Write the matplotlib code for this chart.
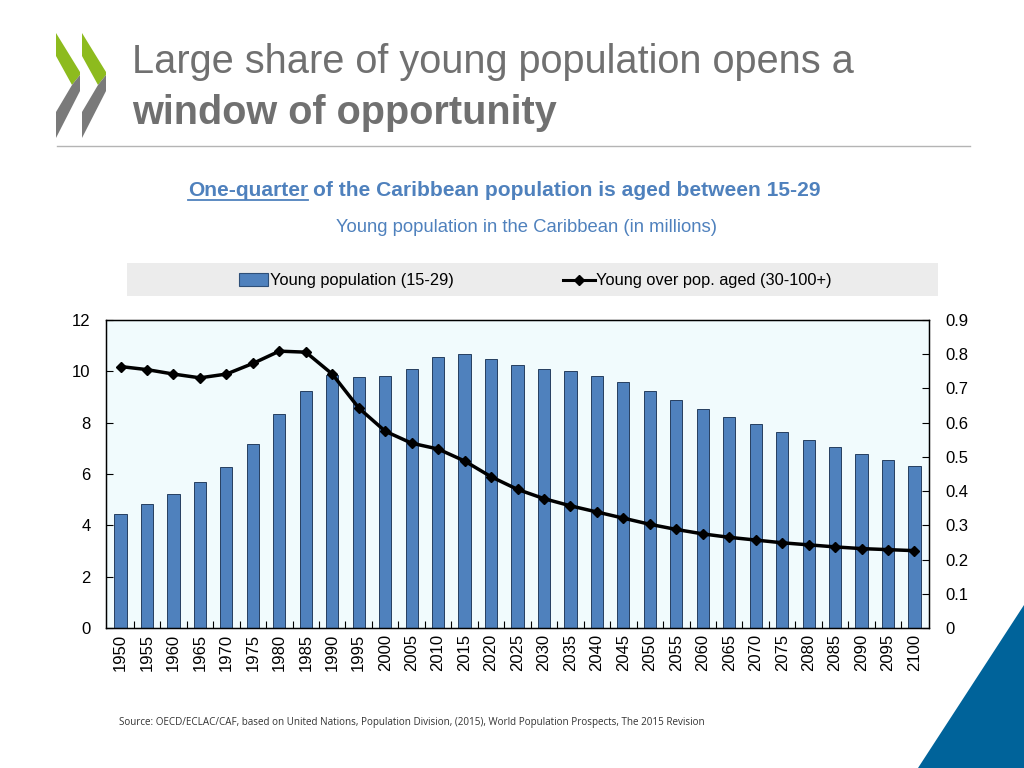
import matplotlib
matplotlib.use("Agg")
import matplotlib.pyplot as plt
from matplotlib import font_manager
from matplotlib.patches import Polygon, Rectangle
from matplotlib.lines import Line2D
import numpy as np

# datos
years = list(range(1950, 2101, 5))
young_pop = [4.44, 4.83, 5.22, 5.67, 6.27, 7.17, 8.34, 9.23, 9.85, 9.78, 9.82,
             10.10, 10.55, 10.69, 10.47, 10.26, 10.09, 10.00, 9.83, 9.57, 9.23,
             8.87, 8.53, 8.23, 7.93, 7.62, 7.32, 7.04, 6.76, 6.53, 6.31]
ratio = [0.764, 0.755, 0.742, 0.731, 0.742, 0.773, 0.809, 0.806, 0.742, 0.643,
         0.575, 0.540, 0.523, 0.488, 0.442, 0.405, 0.378, 0.357, 0.339, 0.321,
         0.303, 0.288, 0.275, 0.265, 0.257, 0.249, 0.243, 0.237, 0.232, 0.229,
         0.226]
left_ticks = [0, 2, 4, 6, 8, 10, 12]
right_ticks = [0, 0.1, 0.2, 0.3, 0.4, 0.5, 0.6, 0.7, 0.8, 0.9]
bar_label = "Young population (15-29)"
line_label = "Young over pop. aged (30-100+)"

names = {f.name for f in font_manager.fontManager.ttflist}
SANS = "Liberation Sans" if "Liberation Sans" in names else "DejaVu Sans"
NARROW = "Liberation Sans Narrow" if "Liberation Sans Narrow" in names else SANS
SMALL = "Open Sans" if "Open Sans" in names else SANS

W, H = 1024, 768


def fx(px):
    return px / W


def fy(py):
    return 1 - py / H


fig = plt.figure(figsize=(10.24, 7.68), dpi=100)
fig.patch.set_facecolor("white")

# logo OCDE (dos chevrones)
green = "#8dbb1e"
grey = "#7a7a7a"
for dx in (0, 26):
    g = [(56, 33), (80, 72), (80, 75), (72, 85), (56, 56)]
    k = [(80, 75), (80, 91), (56, 138), (56, 112), (72, 85)]
    fig.patches.append(Polygon([(fx(x + dx), fy(y)) for x, y in g], closed=True,
                               transform=fig.transFigure, color=green, lw=0))
    fig.patches.append(Polygon([(fx(x + dx), fy(y)) for x, y in k], closed=True,
                               transform=fig.transFigure, color=grey, lw=0))

# triangulo azul
fig.patches.append(Polygon([(fx(1024), fy(605)), (fx(1024), fy(768)), (fx(918), fy(768))],
                           closed=True, transform=fig.transFigure, color="#00639a", lw=0))

# titulo
fig.text(fx(132), fy(73), "Large share of young population opens a", family=SANS,
         fontsize=28.6, color="#707070", va="baseline", ha="left")
fig.text(fx(132), fy(124), "window of opportunity", family=SANS, fontsize=28.5,
         weight="bold", color="#707070", va="baseline", ha="left")
fig.add_artist(Line2D([fx(57), fx(970)], [fy(146), fy(146)], transform=fig.transFigure,
                      color="#b4b4b4", lw=1))

# subtitulo con subrayado
blue = "#4f81bd"
fig.canvas.draw()
r = fig.canvas.get_renderer()
t1 = fig.text(fx(188), fy(196), "One-quarter", family=NARROW, fontsize=15.1, weight="bold",
              color=blue, va="baseline", ha="left")
bb = t1.get_window_extent(renderer=r)
t2 = fig.text(bb.x1 / W + fx(5), fy(196), "of the Caribbean population is aged between 15-29",
              family=NARROW, fontsize=15.1, weight="bold", color=blue, va="baseline", ha="left")
fig.add_artist(Line2D([bb.x0 / W, bb.x1 / W], [fy(200), fy(200)], transform=fig.transFigure,
                      color=blue, lw=1.3))
fig.text(fx(526), fy(232), "Young population in the Caribbean (in millions)", family=NARROW,
         fontsize=13.3, color=blue, va="baseline", ha="center")

# caja de leyenda
fig.patches.append(Rectangle((fx(127), fy(296)), fx(938 - 127), (296 - 263) / H,
                             transform=fig.transFigure, color="#ececec", lw=0))
fig.patches.append(Rectangle((fx(239), fy(286)), fx(29), 13 / H, transform=fig.transFigure,
                             facecolor=blue, edgecolor="#2e4f78", lw=0.8))
fig.text(fx(270), fy(285), bar_label, family=NARROW, fontsize=11.8, color="black",
         va="baseline", ha="left")
fig.add_artist(Line2D([fx(563), fx(595)], [fy(280), fy(280)], transform=fig.transFigure,
                      color="black", lw=2.2))
fig.add_artist(Line2D([fx(579)], [fy(280)], transform=fig.transFigure, color="black",
                      marker="D", markersize=5, lw=0))
fig.text(fx(596), fy(285), line_label, family=NARROW, fontsize=11.8, color="black",
         va="baseline", ha="left")

# grafico
ax = fig.add_axes([fx(106), fy(628), fx(929 - 106), (628 - 320) / H])
ax.set_facecolor("#f1fbfd")
x = np.arange(len(years))
ax.bar(x, young_pop, width=0.46, color=blue, edgecolor="#263f60", linewidth=0.7, zorder=2)
ax.set_xlim(-0.55, len(years) - 0.45)
ax.set_ylim(0, 12)
ax.set_yticks(left_ticks)
ax.set_yticklabels([str(v) for v in left_ticks], family=SANS, fontsize=12)
ax.set_xticks(x)
ax.set_xticklabels([str(y) for y in years], rotation=90, family=SANS, fontsize=12)
ax.tick_params(axis="x", length=0, pad=4)
ax.set_xticks(x[:-1] + 0.5, minor=True)
ax.tick_params(axis="x", which="minor", direction="in", length=5, width=0.8)
ax.tick_params(axis="y", direction="in", length=5, width=0.8, pad=11)
for s in ax.spines.values():
    s.set_linewidth(1)

ax2 = ax.twinx()
ax2.plot(x, ratio, color="black", lw=2.5, marker="D", markersize=5, zorder=3)
ax2.set_ylim(0, 0.9)
ax2.set_yticks(right_ticks)
ax2.set_yticklabels(["0" if v == 0 else f"{v:.1f}" for v in right_ticks], family=SANS,
                    fontsize=12)
ax2.tick_params(axis="y", direction="in", length=5, width=0.8, pad=12)

fig.text(fx(119), fy(725), "Source: OECD/ECLAC/CAF, based on United Nations, Population Division, "
         "(2015), World Population Prospects, The 2015 Revision", family=SMALL, fontsize=7.15,
         color="#333333", va="baseline", ha="left")

fig.savefig("out.png", dpi=100)
